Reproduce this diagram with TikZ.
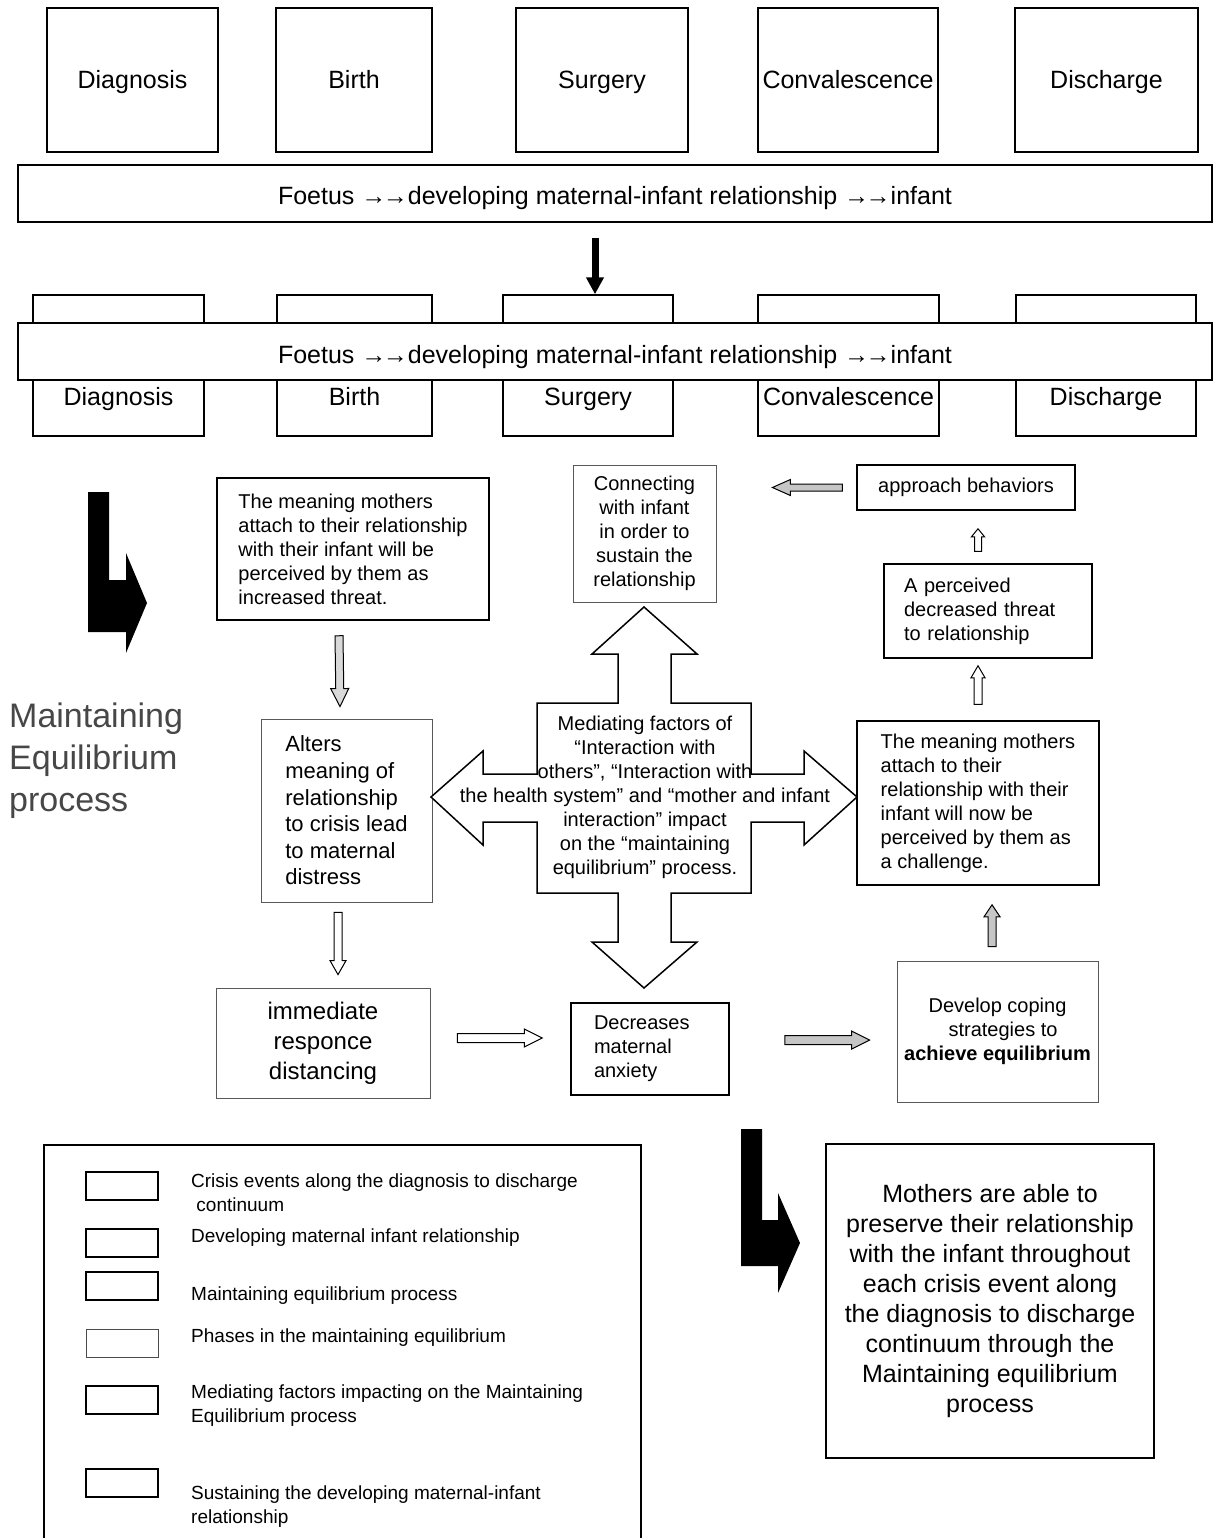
\documentclass[tikz,border=0pt]{standalone}
\usepackage{fontspec}
\setmainfont{Liberation Sans}
\usetikzlibrary{calc,arrows.meta}
\newcommand{\hollowarrow}[6][]{%
  \draw[harrow,#1] let \p1=(#2), \p2=(#3),
    \n1={veclen(\x2-\x1,\y2-\y1)},
    \n2={(\x2-\x1)/\n1}, \n3={(\y2-\y1)/\n1}
  in ({\x1-(#4)*\n3},{\y1+(#4)*\n2})
  -- ({\x2-(#6)*\n2-(#4)*\n3},{\y2-(#6)*\n3+(#4)*\n2})
  -- ({\x2-(#6)*\n2-(#5)*\n3},{\y2-(#6)*\n3+(#5)*\n2})
  -- (\x2,\y2)
  -- ({\x2-(#6)*\n2+(#5)*\n3},{\y2-(#6)*\n3-(#5)*\n2})
  -- ({\x2-(#6)*\n2+(#4)*\n3},{\y2-(#6)*\n3-(#4)*\n2})
  -- ({\x1+(#4)*\n3},{\y1-(#4)*\n2}) -- cycle;}
\newcommand{\dblarr}{→\kern-3.5pt→}
\begin{document}
\begin{tikzpicture}[x=1pt,y=-1pt,
  box/.style={draw, line width=1.5pt, fill=white, inner sep=0pt},
  thinbox/.style={draw=black!65, line width=0.8pt, fill=white, inner sep=0pt},
  evtext/.style={font=\fontsize{25}{30}\selectfont, inner sep=0pt, text height=18pt, text depth=0pt},
  bartext/.style={font=\fontsize{25}{30}\selectfont, inner sep=0pt, text height=23pt, text depth=0pt},
  t20/.style={font=\fontsize{20}{24}\selectfont, align=left, inner sep=0pt},
  t22/.style={font=\fontsize{22}{26.6}\selectfont, align=left, inner sep=0pt},
  lgbox/.style={draw, line width=1.3pt, fill=white, minimum width=72pt, minimum height=28pt, inner sep=0pt},
  lgtext/.style={font=\fontsize{19}{24}\selectfont, align=left, anchor=west, inner sep=0pt},
  harrow/.style={draw, line width=1pt, fill=white, line join=miter},
  bigarrow/.style={fill=black}]
\useasboundingbox (0,0) rectangle (1214,1538);

% ---- top row of crisis events
\node[box, evtext, minimum width=171pt, minimum height=144pt] (d1) at (132.5,80) {Diagnosis};
\node[box, evtext, minimum width=156pt, minimum height=144pt] (b1) at (354,80) {Birth};
\node[box, evtext, minimum width=172pt, minimum height=144pt] (s1) at (602,80) {Surgery};
\node[box, evtext, minimum width=180pt, minimum height=144pt] (c1) at (848,80) {Convalescence};
\node[box, evtext, minimum width=183pt, minimum height=144pt] (x1) at (1106.5,80) {Discharge};
\node[box, bartext, minimum width=1194pt, minimum height=57pt] (bar1) at (615,193.5) {Foetus \dblarr developing maternal-infant relationship \dblarr infant};

% ---- second row
\node[box, minimum width=171pt, minimum height=141pt] (d2) at (118.5,365.5) {};
\node[box, minimum width=155pt, minimum height=141pt] (b2) at (354.5,365.5) {};
\node[box, minimum width=170pt, minimum height=141pt] (s2) at (588,365.5) {};
\node[box, minimum width=181pt, minimum height=141pt] (c2) at (848.5,365.5) {};
\node[box, minimum width=180pt, minimum height=141pt] (x2) at (1106,365.5) {};
\node[box, bartext, minimum width=1194pt, minimum height=57pt] (bar2) at (615,351.5) {Foetus \dblarr developing maternal-infant relationship \dblarr infant};
\node[evtext] (d2t) at ($(d2.south)+(0,-40)$) {Diagnosis};
\node[evtext] (b2t) at ($(b2.south)+(0,-40)$) {Birth};
\node[evtext] (s2t) at ($(s2.south)+(0,-40)$) {Surgery};
\node[evtext] (c2t) at ($(c2.south)+(0,-40)$) {Convalescence};
\node[evtext] (x2t) at ($(x2.south)+(0,-40)$) {Discharge};

\draw[line width=7pt, -{Triangle[length=17pt,width=17pt]}] ($(bar1.south)+(-20,15)$) -- ($(s2.north)+(7,0)$);

% ---- left side label and big arrow
\fill[bigarrow] (88,492) -- (109,492) -- (109,580) -- (126,580) -- (126,553) -- (147,603) -- (126,653) -- (126,632) -- (88,632) -- cycle;
\node[anchor=west, align=left, font=\fontsize{34}{42}\selectfont, text=black!72, inner sep=0pt] (me) at (9,761) {Maintaining\\Equilibrium\\process};

% ---- process boxes
\node[box, t20, minimum width=272pt, minimum height=142pt] (threat) at (353,549) {The meaning mothers\\attach to their relationship\\with their infant will be\\perceived by them as\\increased threat.};
\node[thinbox, t22, minimum width=171pt, minimum height=183pt] (alters) at (346.5,810.5) {Alters\\meaning of\\relationship\\to crisis lead\\to maternal\\distress};
\node[thinbox, font=\fontsize{24}{30}\selectfont, align=center, minimum width=214pt, minimum height=110pt] (imm) at (323,1043) {immediate\\responce\\distancing};
\node[box, t20, text width=112pt, minimum width=158pt, minimum height=92pt] (dec) at (650,1049) {Decreases\\maternal\\anxiety};
\node[thinbox, t20, align=center, minimum width=201pt, minimum height=141pt] (dev) at (997.5,1031.5) {Develop coping\\\ \ strategies to\\\textbf{achieve equilibrium}};
\node[box, t20, minimum width=242pt, minimum height=164pt] (chal) at (978,803) {The meaning mothers\\attach to their\\relationship with their\\infant will now be\\perceived by them as\\a challenge.};
\node[box, t20, text width=168pt, minimum width=208pt, minimum height=94pt] (perc) at (988,611) {A perceived\\decreased threat\\to relationship};
\node[box, t20, minimum width=218pt, minimum height=45pt] (appr) at (966,487.5) {approach behaviors};
\node[thinbox, t20, align=center, minimum width=143pt, minimum height=137pt] (conn) at (644.5,533.5) {Connecting\\with infant\\in order to\\sustain the\\relationship};

% ---- four-way arrow of mediating factors
\draw[line width=1.5pt, fill=white, line join=miter] (644,607) -- (697,654) -- (671,654) -- (671,703) -- (751,703) -- (751,774) -- (804,774) -- (804,751) -- (857,797) -- (804,845) -- (804,822) -- (751,822) -- (751,893) -- (671,893) -- (671,942) -- (697,942) -- (644,988) -- (592,942) -- (618,942) -- (618,893) -- (537,893) -- (537,822) -- (483,822) -- (483,845) -- (431,797) -- (483,751) -- (483,774) -- (537,774) -- (537,703) -- (618,703) -- (618,654) -- (592,654) -- cycle;
\node[t20, align=center] (med) at (645,797) {Mediating factors of\\“Interaction with\\others”, “Interaction with\\the health system” and “mother and infant\\interaction” impact\\on the “maintaining\\equilibrium” process.};

% ---- hollow arrows between phases
\coordinate (a1s) at ($(threat.south)+(-14,15)$);
\coordinate (a1e) at ($(alters.north)+(-6.5,-12)$);
\hollowarrow[fill=gray!30]{a1s}{a1e}{4}{9}{18}
\coordinate (a2s) at ($(alters.south)+(-8.5,10)$);
\coordinate (a2e) at ($(imm.north)+(15,-13)$);
\hollowarrow{a2s}{a2e}{4}{8}{14}
\coordinate (a3s) at ($(imm.east)+(27,-5)$);
\coordinate (a3e) at ($(dec.west)+(-28,-11)$);
\hollowarrow{a3s}{a3e}{4.5}{9}{18}
\coordinate (a4s) at ($(dec.east)+(55,-9)$);
\coordinate (a4e) at ($(dev.west)+(-27,8.5)$);
\hollowarrow[fill=gray!45]{a4s}{a4e}{4.5}{9}{18}
\coordinate (a5s) at ($(dev.north)+(-5.5,-14)$);
\coordinate (a5e) at ($(chal.south)+(14,19)$);
\hollowarrow[fill=gray!45]{a5s}{a5e}{4}{8}{12}
\coordinate (a6s) at ($(chal.north)+(0,-16)$);
\coordinate (a6e) at ($(perc.south)+(-10,7)$);
\hollowarrow{a6s}{a6e}{4}{7}{12}
\coordinate (a7s) at ($(perc.north)+(-10,-12)$);
\coordinate (a7e) at ($(appr.south)+(12,18)$);
\hollowarrow{a7s}{a7e}{3.5}{6.5}{8}
\coordinate (a8s) at ($(appr.west)+(-14,0)$);
\coordinate (a8e) at ($(conn.east)+(56,-46)$);
\hollowarrow[fill=gray!45]{a8s}{a8e}{3.5}{8}{18}

% ---- outcome
\fill[bigarrow] (741,1129) -- (762,1129) -- (762,1220) -- (778,1220) -- (778,1193) -- (800,1243) -- (778,1293) -- (778,1266) -- (741,1266) -- cycle;
\node[box, font=\fontsize{25}{30}\selectfont, align=center, minimum width=328pt, minimum height=314pt] (concl) at (990,1301) {Mothers are able to\\preserve their relationship\\with the infant throughout\\each crisis event along\\the diagnosis to discharge\\continuum through the\\Maintaining equilibrium\\process};

% ---- legend
\draw[line width=1.3pt] (44,1545) -- (44,1145) -- (641,1145) -- (641,1545);
\node[lgbox] (lg1) at (122,1186) {};
\node[lgbox] (lg2) at (122,1243) {};
\node[lgbox, line width=1.6pt] (lg3) at (122,1286) {};
\node[lgbox, draw=black!70, line width=1pt] (lg4) at (122,1343) {};
\node[lgbox, line width=1.8pt] (lg5) at (122,1400) {};
\node[lgbox] (lg6) at (122,1483) {};
\node[lgtext] (lt1) at (191,1193) {Crisis events along the diagnosis to discharge\\\ continuum};
\node[lgtext] (lt2) at (191,1238) {Developing maternal infant relationship};
\node[lgtext] (lt3) at (191,1296) {Maintaining equilibrium process};
\node[lgtext] (lt4) at (191,1338) {Phases in the maintaining equilibrium};
\node[lgtext] (lt5) at (191,1406) {Mediating factors impacting on the Maintaining\\Equilibrium process};
\node[lgtext] (lt6) at (191,1506.5) {Sustaining the developing maternal-infant\\relationship};
\end{tikzpicture}
\end{document}
